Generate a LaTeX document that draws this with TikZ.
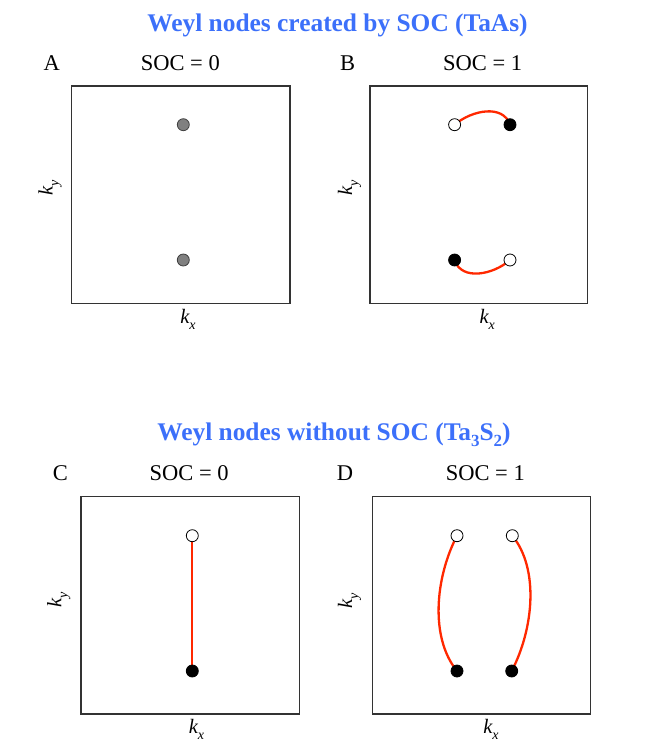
\documentclass[tikz,border=0pt]{standalone}
\usepackage{fontspec}
\setmainfont{Liberation Serif}
\definecolor{titleblue}{RGB}{60,112,250}
\definecolor{arcred}{RGB}{255,40,0}
\pgfdeclarelayer{bg}
\pgfsetlayers{bg,main}
\newcommand{\lowsub}[2]{#1\raisebox{-0.3em}{\fontsize{14}{14}\selectfont #2}}
\newcommand{\ttlsub}[1]{\raisebox{-0.22em}{\fontsize{17}{17}\selectfont #1}}
\tikzset{
  frame/.style={draw=black!80, line width=1.1pt},
  ttl/.style={text=titleblue, font=\fontsize{25.4}{30}\selectfont\bfseries, anchor=base, inner sep=0pt},
  lbl/.style={font=\fontsize{22.5}{26}\selectfont, anchor=base, inner sep=0pt},
  axl/.style={font=\fontsize{20.5}{24}\selectfont\itshape, inner sep=0pt},
  dot/.style={circle, inner sep=0pt, minimum size=12pt, line width=0.8pt, draw=black},
  graydot/.style={dot, fill=black!50, draw=black!75},
  fulldot/.style={dot, fill=black},
  opendot/.style={dot, fill=white},
  arc/.style={draw=arcred, line width=2.3pt},
}
\begin{document}
\begin{tikzpicture}[x=1pt, y=-1pt]
\useasboundingbox (0,0) rectangle (654,747);
% titles
\node[ttl] (t1) at (337.5,31.5) {Weyl nodes created by SOC (TaAs)};
\node[ttl] (t2) at (334,440.7) {Weyl nodes without SOC (Ta\ttlsub{3}S\ttlsub{2})};
% panel letters and SOC labels
\node[lbl, anchor=base west] (la) at (43.3,70) {A};
\node[lbl] (sa) at (180.3,70) {SOC = 0};
\node[lbl, anchor=base west] (lb) at (340,70) {B};
\node[lbl] (sb) at (482.7,70) {SOC = 1};
\node[lbl, anchor=base west] (lc) at (52.7,480.7) {C};
\node[lbl] (sc) at (189.2,480.7) {SOC = 0};
\node[lbl, anchor=base west] (ld) at (336.7,480.7) {D};
\node[lbl] (sd) at (485.3,480.7) {SOC = 1};
% frames
\draw[frame] (71.7,86) rectangle (290,303.3);
\draw[frame] (370,86) rectangle (587.3,303.3);
\draw[frame] (81,496.7) rectangle (299.3,714);
\draw[frame] (372.3,496.7) rectangle (590.7,714);
% axis labels
\node[axl, rotate=90] (ya) at (50,188) {\lowsub{k}{y}};
\node[axl, rotate=90] (yb) at (349.5,188) {\lowsub{k}{y}};
\node[axl, rotate=90] (yc) at (58.8,600) {\lowsub{k}{y}};
\node[axl, rotate=90] (yd) at (349.5,601) {\lowsub{k}{y}};
\node[axl, anchor=base] (xa) at (188,323.5) {\lowsub{k}{x}};
\node[axl, anchor=base] (xb) at (487.3,323.5) {\lowsub{k}{x}};
\node[axl, anchor=base] (xc) at (196.5,733) {\lowsub{k}{x}};
\node[axl, anchor=base] (xd) at (491,733) {\lowsub{k}{x}};
% panel A
\node[graydot] (a1) at (183.3,124.7) {};
\node[graydot] (a2) at (183.3,260) {};
% panel B
\node[opendot] (b1) at (454.6,124.7) {};
\node[fulldot] (b2) at (510,124.7) {};
\node[fulldot] (b3) at (454.6,260) {};
\node[opendot] (b4) at (510,260) {};
% panel C
\node[opendot] (c1) at (192.3,535.7) {};
\node[fulldot] (c2) at (192.3,671) {};
% panel D
\node[opendot] (d1) at (457,535.7) {};
\node[opendot] (d2) at (512.3,535.7) {};
\node[fulldot] (d3) at (457,671) {};
\node[fulldot] (d4) at (511.7,671) {};
% arcs (behind dots)
\begin{pgfonlayer}{bg}
\draw[arc] (b1.center) .. controls (472,110) and (503,104) .. (b2.center);
\draw[arc] (b3.center) .. controls (461.3,281) and (493,275) .. (b4.center);
\draw[arc] (c1.center) -- (c2.center);
\draw[arc] (d1.center) .. controls (435,578) and (430,638) .. (d3.center);
\draw[arc] (d2.center) .. controls (539.3,568.7) and (533.7,628.7) .. (d4.center);
\end{pgfonlayer}
\end{tikzpicture}
\end{document}
